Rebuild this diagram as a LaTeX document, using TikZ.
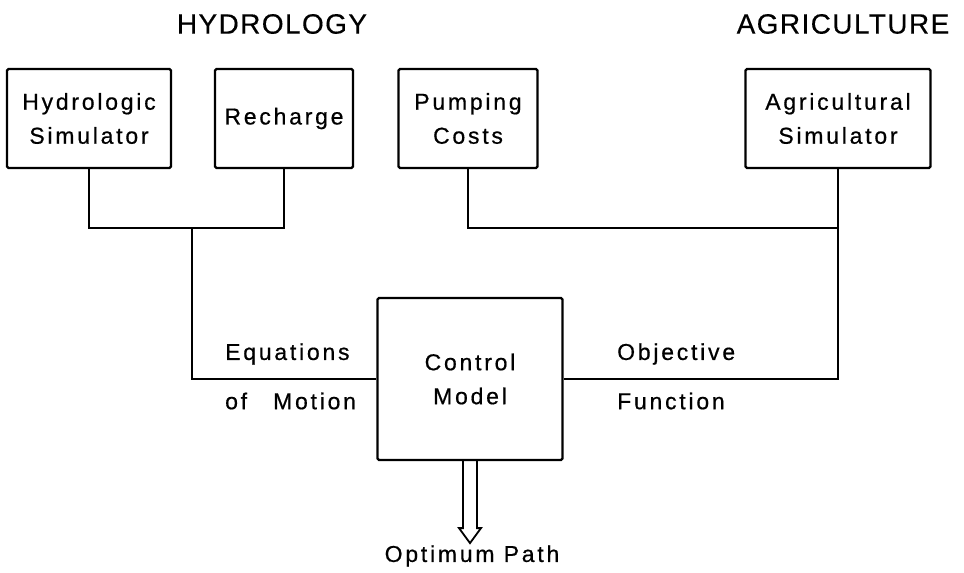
\documentclass[tikz,border=0pt]{standalone}
\usepackage{fontspec}
\setmainfont{Liberation Sans}[LetterSpace=12,FakeBold=0.6]
\newfontfamily\titlefont{Liberation Sans}[LetterSpace=5,FakeBold=0.3]
\begin{document}
\begin{tikzpicture}[x=1pt,y=-1pt,
  box/.style={draw,line width=2.2pt,rounded corners=1.5pt,inner sep=0pt,align=center,font=\fontsize{23}{34}\selectfont},
  wire/.style={line width=1.8pt},
  lbl/.style={inner sep=0pt,font=\fontsize{23}{26}\selectfont},
  title/.style={inner sep=0pt,font=\titlefont\fontsize{28}{30}\selectfont}]
\useasboundingbox (0,0) rectangle (964,573);
\node[title] (th) at (272,24) {HYDROLOGY};
\node[title] (ta) at (843,24) {AGRICULTURE};
\node[box,minimum width=164pt,minimum height=99pt] (hs) at (89,118.5) {Hydrologic\\Simulator};
\node[box,minimum width=138pt,minimum height=99pt] (rc) at (284,118.5) {Recharge};
\node[box,minimum width=139pt,minimum height=99pt] (pc) at (468,118.5) {Pumping\\Costs};
\node[box,minimum width=185pt,minimum height=162pt] (cm) at (470,379) {Control\\Model};
\node[box,minimum width=185pt,minimum height=99pt] (ag) at (838,118.5) {Agricultural\\Simulator};
\coordinate (hj) at (192,228);
\coordinate (aj) at (838,228);
\draw[wire] (hs.south) -- (hs.south |- hj) -- (rc.south |- hj) -- (rc.south);
\draw[wire] (hj) |- (cm.west);
\draw[wire] (pc.south) |- (aj);
\draw[wire] (ag.south) |- (cm.east);
\node[lbl,anchor=west] (eq) at (225,354) {Equations};
\node[lbl,anchor=west] (om) at (225,401) {of\hspace{26pt}Motion};
\node[lbl,anchor=west] (ob) at (617,354) {Objective};
\node[lbl,anchor=west] (fn) at (617,401) {Function};
\node[lbl] (op) at (472,556) {Optimum Path};
\draw[line width=1.8pt,line join=miter]
  (cm.south) ++(-7,0) -- ++(0,67) -- ++(-4,0) -- ++(11,15) -- ++(11,-15) -- ++(-4,0) -- ++(0,-67);
\end{tikzpicture}
\end{document}
